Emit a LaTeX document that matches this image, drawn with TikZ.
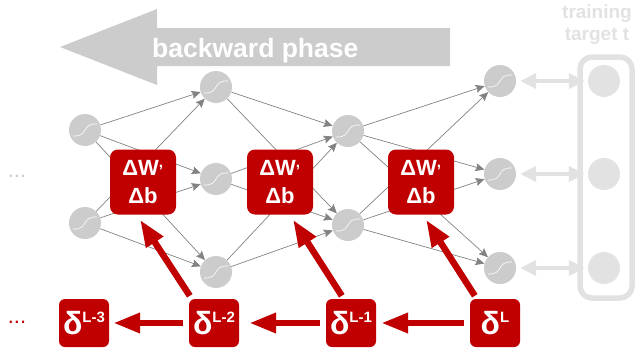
\documentclass[tikz,border=0pt]{standalone}
\usepackage{fontspec}
\setmainfont{Liberation Sans}
\usetikzlibrary{arrows.meta}
\definecolor{netred}{RGB}{192,0,0}
\definecolor{neurongray}{RGB}{204,204,204}
\definecolor{edgegray}{RGB}{130,130,130}
\definecolor{palegray}{RGB}{226,226,226}
\tikzset{
  neuron/.style={circle, fill=neurongray, minimum size=32pt, inner sep=0pt,
    path picture={\draw[white, line width=0.6pt]
      ([xshift=-12pt,yshift=-6pt]path picture bounding box.center)
      .. controls ([xshift=4pt,yshift=-7pt]path picture bounding box.center)
      and ([xshift=-4pt,yshift=7pt]path picture bounding box.center)
      .. ([xshift=12pt,yshift=6pt]path picture bounding box.center);}},
  target/.style={circle, fill=palegray, minimum size=32pt, inner sep=0pt},
  edge/.style={draw=edgegray, line width=0.7pt, -{Stealth[length=9pt,width=8pt,inset=1.5pt]}},
  update/.style={fill=netred, text=white, rounded corners=8pt, minimum width=66pt,
    minimum height=65pt, inner sep=0pt, align=center,
    font=\fontsize{22}{28}\selectfont\bfseries},
  deltabox/.style={fill=netred, text=white, rounded corners=6pt, minimum width=50pt,
    minimum height=48pt, inner sep=0pt, font=\fontsize{32}{32}\selectfont\bfseries},
  redarrow/.style={draw=netred, line width=6.5pt, -{Triangle[length=27pt,width=19pt]}},
  paired/.style={draw=palegray, line width=4pt,
    {Triangle[length=16pt,width=15pt]}-{Triangle[length=16pt,width=15pt]}}
}
\newcommand{\dsup}[1]{δ\raisebox{12pt}{\fontsize{15}{15}\selectfont\bfseries #1}}
\begin{document}
\begin{tikzpicture}[x=1pt, y=-1pt]
  \useasboundingbox (0,0) rectangle (637,348);

  % Backward phase arrow
  \fill[neurongray] (60,47) -- (157,9) -- (157,28) -- (450,28) -- (450,66)
    -- (157,66) -- (157,85) -- cycle;
  \node[anchor=base west, text=white, inner sep=0pt,
    font=\fontsize{26.5}{26.5}\selectfont\bfseries] (phase) at (152,57) {backward phase};

  % Define nodes
  \node[neuron] (n11) at (85,130) {};
  \node[neuron] (n12) at (85,223) {};
  \node[neuron] (n21) at (216,87) {};
  \node[neuron] (n22) at (216,179) {};
  \node[neuron] (n23) at (216,272) {};
  \node[neuron] (n31) at (348,131) {};
  \node[neuron] (n32) at (348,225) {};
  \node[neuron] (n41) at (500,81) {};
  \node[neuron] (n42) at (500,174) {};
  \node[neuron] (n43) at (500,268) {};

  \node[target] (t1) at (604,81) {};
  \node[target] (t2) at (604,174) {};
  \node[target] (t3) at (604,268) {};
  \draw[palegray, line width=5.5pt, rounded corners=12pt] (580,57) rectangle (632,298);
  \node[text=palegray, align=center, inner sep=0pt,
    font=\fontsize{19}{22}\selectfont\bfseries] (ttext) at (597,25) {training\\target t};

  \node[text=neurongray, font=\fontsize{22}{22}\selectfont, inner sep=0pt] (dotsup) at (17,176) {...};
  \node[text=netred, font=\fontsize{22}{22}\selectfont, inner sep=0pt] (dotsdown) at (17,322) {...};

  % Draw edges
  \foreach \i in {1,2} \foreach \j in {1,2,3}
    \draw[edge] (n1\i) -- (n2\j);
  \foreach \i in {1,2,3} \foreach \j in {1,2}
    \draw[edge] (n2\i) -- (n3\j);
  \foreach \i in {1,2} \foreach \j in {1,2,3}
    \draw[edge] (n3\i) -- (n4\j);
  \foreach \j in {1,2,3}
    \draw[paired, shorten <=4pt, shorten >=3pt] (n4\j) -- (t\j);

  % Updates
  \node[update] (dw1) at (143,182) {ΔW\textsuperscript{,}\\Δb};
  \node[update] (dw2) at (280,182) {ΔW\textsuperscript{,}\\Δb};
  \node[update] (dw3) at (421,182) {ΔW\textsuperscript{,}\\Δb};

  % Deltas
  \node[deltabox] (dl3) at (84,323) {\dsup{L-3}};
  \node[deltabox] (dl2) at (214,323) {\dsup{L-2}};
  \node[deltabox] (dl1) at (351,323) {\dsup{L-1}};
  \node[deltabox] (dl) at (495,323) {\dsup{L}};

  \draw[redarrow, shorten <=6pt, shorten >=5pt] (dl) -- (dl1);
  \draw[redarrow, shorten <=6pt, shorten >=10pt] (dl1) -- (dl2);
  \draw[redarrow, shorten <=6pt, shorten >=4pt] (dl2) -- (dl3);
  \draw[redarrow] ([xshift=1pt,yshift=3pt]dl2.north west) -- ([xshift=-3pt,yshift=-5pt]dw1.south);
  \draw[redarrow] ([xshift=16pt,yshift=3pt]dl1.north west) -- ([xshift=13pt,yshift=-5pt]dw2.south);
  \draw[redarrow] ([xshift=5pt,yshift=3pt]dl.north west) -- ([xshift=5pt,yshift=-5pt]dw3.south);
\end{tikzpicture}
\end{document}
